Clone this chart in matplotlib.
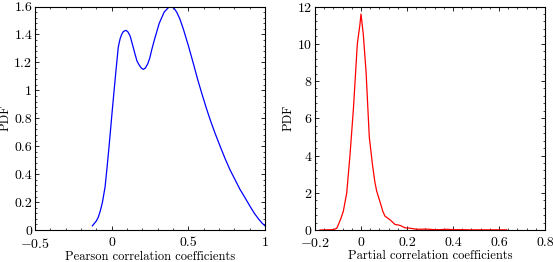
import matplotlib
matplotlib.use('Agg')
import matplotlib.pyplot as plt
from matplotlib.ticker import AutoMinorLocator

plt.rcParams['font.family'] = 'serif'
plt.rcParams['font.serif'] = ['cmr10']
plt.rcParams['mathtext.fontset'] = 'cm'
plt.rcParams['axes.formatter.use_mathtext'] = True
plt.rcParams['font.size'] = 9

# Pearson correlation coefficients PDF
pearson_x = [-0.126, -0.10, -0.088, -0.076, -0.06, -0.043, -0.03, -0.017, 0.004, 0.026, 0.043,
             0.055, 0.065, 0.075, 0.092, 0.105, 0.12, 0.135, 0.152, 0.165, 0.18,
             0.193, 0.206, 0.22, 0.235, 0.248, 0.261, 0.278, 0.294, 0.31, 0.326,
             0.342, 0.359, 0.372, 0.385, 0.405, 0.424, 0.445, 0.467, 0.50, 0.533,
             0.56, 0.587, 0.615, 0.642, 0.675, 0.707, 0.74, 0.772, 0.80, 0.837,
             0.87, 0.902, 0.93, 0.957, 0.98, 1.0]
pearson_y = [0.03, 0.065, 0.09, 0.13, 0.20, 0.31, 0.45, 0.60, 0.86, 1.12, 1.31,
             1.37, 1.40, 1.42, 1.43, 1.42, 1.39, 1.33, 1.26, 1.21, 1.18,
             1.16, 1.15, 1.16, 1.19, 1.23, 1.29, 1.36, 1.42, 1.48, 1.52,
             1.56, 1.58, 1.595, 1.60, 1.59, 1.56, 1.51, 1.44, 1.32, 1.19,
             1.08, 0.98, 0.88, 0.79, 0.69, 0.60, 0.51, 0.43, 0.37, 0.29,
             0.23, 0.17, 0.12, 0.08, 0.05, 0.03]

# Partial correlation coefficients PDF
partial_x = [-0.178, -0.15, -0.12, -0.105, -0.098, -0.088, -0.077, -0.062, -0.048, -0.033,
             -0.016, -0.005, 0.0, 0.01, 0.022, 0.036, 0.05, 0.06, 0.068, 0.083,
             0.095, 0.104, 0.115, 0.126, 0.148, 0.17, 0.191, 0.213, 0.242, 0.286,
             0.32, 0.343, 0.372, 0.40, 0.43, 0.48, 0.517, 0.58, 0.633]
partial_y = [0.0, 0.01, 0.02, 0.1, 0.3, 0.6, 1.0, 2.0, 4.0, 6.5,
             10.0, 11.0, 11.6, 10.5, 8.5, 5.0, 3.5, 2.6, 2.1, 1.5,
             1.0, 0.75, 0.65, 0.55, 0.3, 0.25, 0.12, 0.1, 0.04, 0.05,
             0.02, 0.02, 0.04, 0.02, 0.02, 0.01, 0.01, 0.01, 0.01]

fig = plt.figure(figsize=(5.53, 2.62), dpi=100)
ax1 = fig.add_axes([0.0633, 0.122, 0.416, 0.853])
ax2 = fig.add_axes([0.5696, 0.122, 0.416, 0.853])

ax1.plot(pearson_x, pearson_y, color='blue', lw=0.9)
ax1.set_xlim(-0.5, 1)
ax1.set_ylim(0, 1.6)
ax1.set_xticks([-0.5, 0, 0.5, 1])
ax1.set_xticklabels(['$-0.5$', '0', '0.5', '1'])
ax1.set_yticks([0, 0.2, 0.4, 0.6, 0.8, 1, 1.2, 1.4, 1.6])
ax1.set_yticklabels(['0', '0.2', '0.4', '0.6', '0.8', '1', '1.2', '1.4', '1.6'])
ax1.set_xlabel('Pearson correlation coefficients', labelpad=0)
ax1.set_ylabel('PDF', labelpad=2)

ax2.plot(partial_x, partial_y, color='red', lw=0.9)
ax2.set_xlim(-0.2, 0.8)
ax2.set_ylim(0, 12)
ax2.set_xticks([-0.2, 0, 0.2, 0.4, 0.6, 0.8])
ax2.set_xticklabels(['$-0.2$', '0', '0.2', '0.4', '0.6', '0.8'])
ax2.set_yticks([0, 2, 4, 6, 8, 10, 12])
ax2.set_xlabel('Partial correlation coefficients', labelpad=0)
ax2.set_ylabel('PDF', labelpad=2)

for ax in (ax1, ax2):
    ax.xaxis.set_minor_locator(AutoMinorLocator(5))
    ax.yaxis.set_minor_locator(AutoMinorLocator(5))
    ax.tick_params(which='both', direction='in', top=True, right=True, labelsize=10)
    ax.tick_params(which='major', length=3, width=0.6, pad=2)
    ax.tick_params(axis='x', which='major', pad=5)
    ax.tick_params(which='minor', length=1.5, width=0.5)
    for s in ax.spines.values():
        s.set_linewidth(0.8)

fig.savefig('out.png', dpi=100)
